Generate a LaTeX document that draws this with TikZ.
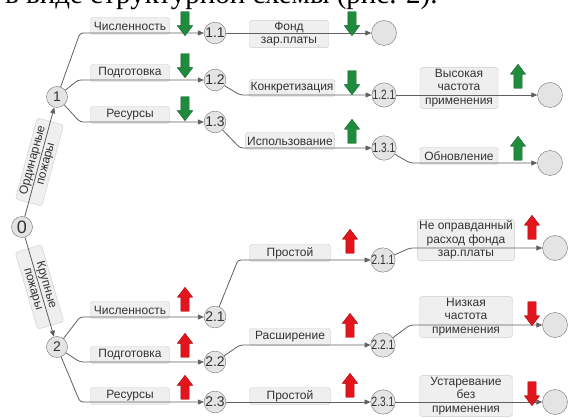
\documentclass[tikz,border=0pt]{standalone}
\usepackage{fontspec}
\setmainfont{Liberation Sans}
\newfontfamily\pagefont{Liberation Serif}
\newfontfamily\narrowfont[FakeStretch=0.75]{Liberation Sans}
\usetikzlibrary{calc, positioning, arrows.meta, shapes.arrows}

\definecolor{boxfill}{HTML}{EFEFEF}
\definecolor{boxline}{HTML}{CCCCCC}
\definecolor{circfill}{HTML}{E4E4E4}
\definecolor{circline}{HTML}{707070}
\definecolor{linec}{HTML}{606060}
\definecolor{txt}{HTML}{333333}
\definecolor{grn}{HTML}{1E8C3C}
\definecolor{rd}{HTML}{E3141C}

\begin{document}
\begin{tikzpicture}[x=1pt, y=-1pt,
  box/.style={draw=boxline, fill=boxfill, rounded corners=2.5pt, minimum height=17pt, minimum width=79pt, inner sep=1.5pt, align=center, text=txt, font=\fontsize{12}{13.5}\selectfont},
  circ/.style={circle, draw=circline, fill=circfill, minimum size=21pt, inner sep=0pt, text=txt, font=\fontsize{14}{14}\selectfont},
  subc/.style={circ, minimum size=23pt, font=\narrowfont\fontsize{13.5}{13.5}\selectfont},
  endc/.style={circ, minimum size=25pt},
  arr/.style={-{Triangle[length=6pt, width=5pt]}, draw=linec, line width=0.8pt, rounded corners=3pt},
  bigarr/.style={single arrow, draw=#1!70!black, fill=#1, line width=0.4pt, minimum height=24pt, minimum width=15pt, single arrow head extend=3.5pt, single arrow tip angle=75, inner xsep=0pt, inner ysep=4pt}
]
\useasboundingbox (0,0) rectangle (569,419);
\clip (0,0) rectangle (569,419);
\node[anchor=base west, inner sep=0pt, font=\pagefont\fontsize{29}{29}\selectfont] (cap) at (5,4) {в виде структурной схемы (рис. 2).};

% labels on the branches
\node (b11) [box] at (130,26) {Численность};
\node (b12) [box] at (130,73) {Подготовка};
\node (b13) [box] at (130,115) {Ресурсы};
\node (b21) [box] at (130,310) {Численность};
\node (b22) [box] at (130,355) {Подготовка};
\node (b23) [box] at (130,396) {Ресурсы};
\node (c11) [box] at (289,34) {Фонд\\зар.платы};
\node (c12) [box, minimum width=83pt] at (292,88) {Конкретизация};
\node (c13) [box, minimum width=81pt] at (290,141) {Использование};
\node (c21) [box, minimum width=81pt] at (290,253) {Простой};
\node (c22) [box, minimum width=81pt] at (290,337) {Расширение};
\node (c23) [box, minimum width=81pt] at (290,396) {Простой};
\node (d121) [box, minimum width=78pt] at (459,88) {Высокая\\частота\\применения};
\node (d131) [box, minimum width=78pt] at (459,156) {Обновление};
\node (d211) [box, minimum width=93pt] at (466,240) {Не оправданный\\расход фонда\\зар.платы};
\node (d221) [box, minimum width=93pt] at (466,317) {Низкая\\частота\\применения};
\node (d231) [box, minimum width=93pt] at (466,396) {Устаревание\\без\\применения};

% side labels
\path (22,227) -- node[box, sloped, minimum width=84pt, minimum height=27pt] (lo) {Ординарные\\пожары} (57,97);
\path (22,227) -- node[box, sloped, minimum width=80pt, minimum height=27pt] (lk) {Крупные\\пожары} (57,347);

% circles
\node (n0) [circ, font=\fontsize{18}{18}\selectfont] at (22,227) {0};
\node (n1) [circ] at (57,97) {1};
\node (n2) [circ] at (57,347) {2};
\node (n11) [circ] at (215,33) {1.1};
\node (n12) [circ] at (215,80) {1.2};
\node (n13) [circ] at (215,122) {1.3};
\node (n21) [circ] at (215,317) {2.1};
\node (n22) [circ] at (215,362) {2.2};
\node (n23) [circ] at (215,402) {2.3};
\node (n121) [subc] at (384,95) {1.2.1};
\node (n131) [subc] at (384,148) {1.3.1};
\node (n211) [subc] at (383,260) {2.1.1};
\node (n221) [subc] at (383,345) {2.2.1};
\node (n231) [subc] at (383,402) {2.3.1};
\node (e11) [endc] at (384,33) {};
\node (e121) [endc] at (550,95) {};
\node (e131) [endc] at (550,163) {};
\node (e211) [endc] at (555,248) {};
\node (e221) [endc] at (555,325) {};
\node (e231) [endc] at (555,402) {};

% connectors
\draw[arr] (n0) -- (n1); \draw[arr] (n0) -- (n2);
\draw[arr] (n1) -- (80,33) -- (n11);
\draw[arr] (n1) -- (78,80) -- (n12);
\draw[arr] (n1) -- (80,122) -- (n13);
\draw[arr] (n2) -- (80,317) -- (n21);
\draw[arr] (n2) -- (80,362) -- (n22);
\draw[arr] (n2) -- (80,402) -- (n23);
\draw[arr] (n11) -- (e11);
\draw[arr] (n12) -- (240,95) -- (n121);
\draw[arr] (n13) -- (240,148) -- (n131);
\draw[arr] (n121) -- (e121);
\draw[arr] (n131) -- (410,163) -- (e131);
\draw[arr] (n21) -- (238,260) -- (n211);
\draw[arr] (n22) -- (240,345) -- (n221);
\draw[arr] (n23) -- (n231);
\draw[arr] (n211) -- (410,248) -- (e211);
\draw[arr] (n221) -- (410,325) -- (e221);
\draw[arr] (n231) -- (e231);

% trend arrows
\node (g1) [bigarr=grn, rotate=-90] at (185,21) {};
\node (g2) [bigarr=grn, rotate=-90] at (185,63) {};
\node (g3) [bigarr=grn, rotate=-90] at (185,106) {};
\node (g4) [bigarr=grn, rotate=-90] at (352,21) {};
\node (g5) [bigarr=grn, rotate=-90] at (352,80) {};
\node (g6) [bigarr=grn, rotate=90] at (352,134) {};
\node (g7) [bigarr=grn, rotate=90] at (518,79) {};
\node (g8) [bigarr=grn, rotate=90] at (518,151) {};
\node (r1) [bigarr=rd, rotate=90] at (185,302) {};
\node (r2) [bigarr=rd, rotate=90] at (185,348) {};
\node (r3) [bigarr=rd, rotate=90] at (185,390) {};
\node (r4) [bigarr=rd, rotate=90] at (350,244) {};
\node (r5) [bigarr=rd, rotate=90] at (350,328) {};
\node (r6) [bigarr=rd, rotate=90] at (350,388) {};
\node (r7) [bigarr=rd, rotate=90] at (532,230) {};
\node (r8) [bigarr=rd, rotate=-90] at (532,311) {};
\node (r9) [bigarr=rd, rotate=-90] at (532,391) {};
\end{tikzpicture}
\end{document}
